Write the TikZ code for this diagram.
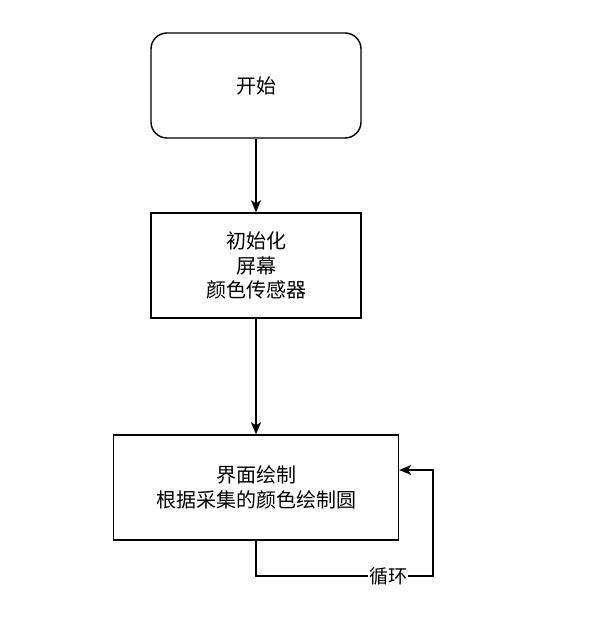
\documentclass[tikz,border=0pt]{standalone}
\usepackage{fontspec}
\newfontfamily\cjk{Noto Sans CJK SC}
\usetikzlibrary{arrows.meta, positioning}

\tikzset{
  box/.style={draw, line width=1.4pt, minimum width=210pt, minimum height=105pt,
    inner sep=0pt, align=center, font=\cjk\fontsize{20}{24.5}\selectfont},
  startbox/.style={box, rounded corners=16pt},
  arrow/.style={line width=1.4pt, -{Stealth[length=12pt,width=10pt,inset=3pt]}},
}

\begin{document}
\begin{tikzpicture}[x=1pt,y=-1pt]
        \useasboundingbox (0,0) rectangle (597,617);
        \node[startbox] (start) at (256,85.5) {开始};
        \node[box, below=73.6pt of start] (init) {初始化\\屏幕\\颜色传感器};
        \node[box, minimum width=285pt, below=115.6pt of init] (paint) {界面绘制\\根据采集的颜色绘制圆};
        \coordinate (loopc) at (433,576);
        \draw[arrow] (start) -- (init);
        \draw[arrow] (init) -- (paint);
        \draw[arrow] (paint.south) |- node[pos=0.873, fill=white, inner sep=1pt,
            font=\cjk\fontsize{19}{20}\selectfont] {循环} (loopc)
          |- ([yshift=17.5pt]paint.east);
      \end{tikzpicture}
\end{document}
